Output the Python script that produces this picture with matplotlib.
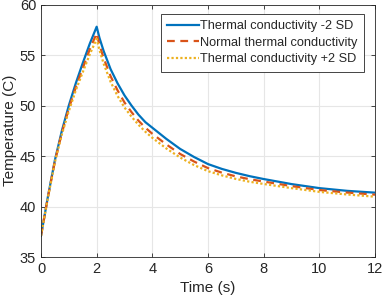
import matplotlib
matplotlib.use("Agg")
import matplotlib.pyplot as plt

plt.rcParams['font.family'] = ['Liberation Sans', 'DejaVu Sans']

time_s = [0, 0.25, 0.5, 0.75, 1.0, 1.25, 1.5, 1.75, 2.0, 2.1, 2.25, 2.5, 2.75, 3.0, 3.25, 3.5, 3.75,
          4.0, 4.5, 5.0, 5.5, 6.0, 6.5, 7.0, 7.5, 8.0, 9.0, 10.0, 11.0, 12.0]
temp_minus2sd = [37.1, 41.0, 44.6, 47.5, 50.0, 52.2, 54.2, 56.1, 57.8, 56.7, 55.4, 53.6, 52.2, 51.0, 50.0, 49.1, 48.35,
                 47.8, 46.7, 45.7, 44.9, 44.2, 43.72, 43.33, 43.0, 42.72, 42.22, 41.82, 41.55, 41.37]
temp_normal = [37.1, 40.95, 44.5, 47.3, 49.7, 51.8, 53.7, 55.55, 57.15, 56.0, 54.7, 52.9, 51.5, 50.3, 49.35, 48.5, 47.8,
               47.2, 46.15, 45.2, 44.45, 43.8, 43.35, 42.98, 42.7, 42.47, 42.02, 41.63, 41.38, 41.17]
temp_plus2sd = [37.1, 40.9, 44.4, 47.15, 49.45, 51.5, 53.3, 55.05, 56.6, 55.5, 54.15, 52.35, 50.95, 49.8, 48.9, 48.1, 47.4,
                46.8, 45.75, 44.85, 44.1, 43.5, 43.08, 42.73, 42.45, 42.23, 41.82, 41.45, 41.19, 40.97]

labels = ['Thermal conductivity -2 SD', 'Normal thermal conductivity', 'Thermal conductivity +2 SD']
xticks = [0, 2, 4, 6, 8, 10, 12]
yticks = [35, 40, 45, 50, 55, 60]

axc = '#262626'
fig = plt.figure(figsize=(3.82, 3.05), dpi=100)
ax = fig.add_axes([41/382, 1-257/305, 334/382, 252.5/305])

ax.plot(time_s, temp_minus2sd, color='#0072BD', lw=1.6, ls='-', label=labels[0])
ax.plot(time_s, temp_normal, color='#D95319', lw=1.6, ls=(0, (3.5, 2.5)), label=labels[1])
ax.plot(time_s, temp_plus2sd, color='#EDB120', lw=1.6, ls=(0, (1, 1)), label=labels[2])

ax.set_xlim(0, 12)
ax.set_ylim(35, 60)
ax.set_xticks(xticks)
ax.set_yticks(yticks)
ax.grid(True, color='#e6e6e6', lw=0.8)
ax.set_axisbelow(True)
ax.tick_params(direction='in', top=True, right=True, colors=axc, labelsize=10.5,
               length=3, width=0.6, labelcolor=axc)
for s in ax.spines.values():
    s.set_color(axc)
    s.set_linewidth(0.6)
ax.set_xlabel('Time (s)', fontsize=11, color=axc, labelpad=4)
ax.set_ylabel('Temperature (C)', fontsize=11, color=axc, labelpad=2)

leg = ax.legend(loc='upper right', bbox_to_anchor=(0.967, 0.962), fontsize=9.2,
                fancybox=False, framealpha=1, edgecolor=axc, handlelength=2.5,
                handletextpad=0.1, borderpad=0.5, labelspacing=0.35, borderaxespad=0)
leg.get_frame().set_linewidth(0.6)
for t in leg.get_texts():
    t.set_color(axc)

fig.savefig('out.png', dpi=100)
